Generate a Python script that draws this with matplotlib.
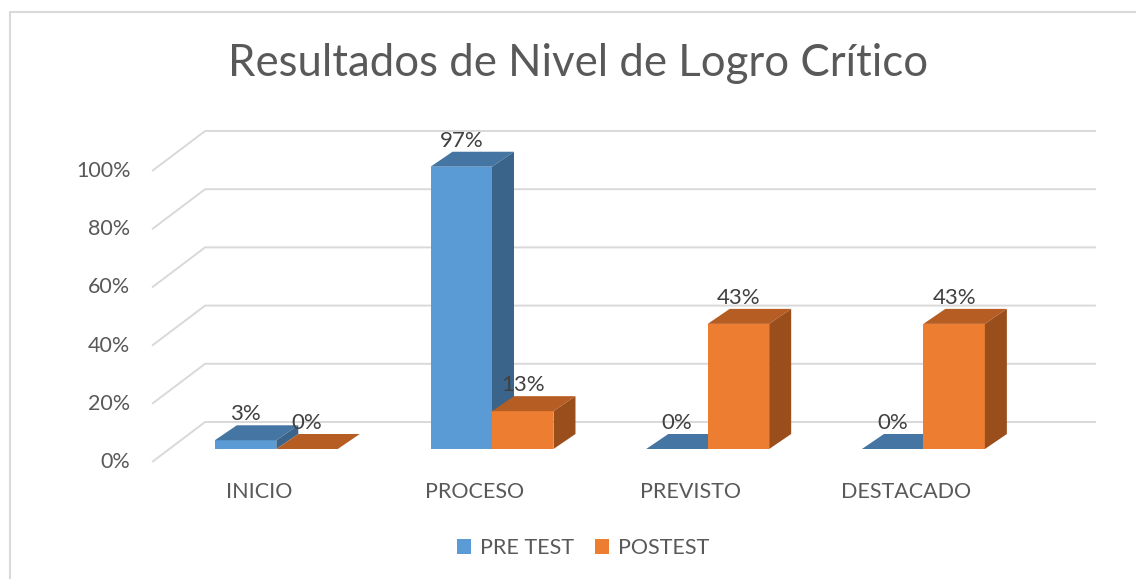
import matplotlib.pyplot as plt
from matplotlib.patches import Polygon, Patch
from matplotlib.lines import Line2D

categories = ['INICIO', 'PROCESO', 'PREVISTO', 'DESTACADO']
pre_test = [3, 97, 0, 0]
postest = [0, 13, 43, 43]
series_names = ['PRE TEST', 'POSTEST']
yticks = [0, 20, 40, 60, 80, 100]

blue = ['#5B9BD5', '#4575A3', '#3A6489']     # front, top, side
orange = ['#ED7D31', '#B55D22', '#9A4E1C']
grid_c = '#D9D9D9'
txt_c = '#595959'
lbl_c = '#404040'
font = 'Lato'

W, H = 1136, 579
fig = plt.figure(figsize=(W / 100, H / 100), dpi=100)
ax = fig.add_axes([0, 0, 1, 1])
# data units: 1 category = 215.7 px, 1 % = 2.91 px
ax.set_xlim(-276.3 / 215.7, (W - 276.3) / 215.7)
ax.set_ylim((449 - H) / 2.91, 449 / 2.91)
ax.axis('off')

bw = 0.285            # width of one bar
bdx, bdy = 0.102, 5.15  # bar depth
fdx, fdy = -0.079, -4.47  # floor front edge relative to bar plane
gdx, gdy = 0.167, 9.28    # back wall relative to bar plane
x_left, x_right = -0.497, 3.80

# gridlines
for v in yticks:
    ax.plot([x_left + fdx, x_left + gdx, x_right], [v + fdy, v + gdy, v + gdy],
            color=grid_c, lw=1.4, solid_capstyle='butt', zorder=1)
    ax.text(x_left + fdx - 0.1, v + fdy, f'{v}%', ha='right', va='center',
            fontsize=15.5, color=txt_c, family=font)

def bar3d(x0, h, cols):
    x1 = x0 + bw
    ax.add_patch(Polygon([(x0, 0), (x1, 0), (x1, h), (x0, h)], closed=True,
                         fc=cols[0], ec='none', zorder=2))
    ax.add_patch(Polygon([(x0, h), (x1, h), (x1 + bdx, h + bdy), (x0 + bdx, h + bdy)],
                         closed=True, fc=cols[1], ec='none', zorder=2))
    ax.add_patch(Polygon([(x1, 0), (x1 + bdx, bdy), (x1 + bdx, h + bdy), (x1, h)],
                         closed=True, fc=cols[2], ec='none', zorder=2))
    ax.text(x0 + bw / 2, h + bdy + 0.4, f'{h}%', ha='center', va='bottom',
            fontsize=16, color=lbl_c, family=font, zorder=3)

for i, cat in enumerate(categories):
    bar3d(i - bw, pre_test[i], blue)
    bar3d(i, postest[i], orange)
    ax.text(i + fdx, -14.8, cat, ha='center', va='center', fontsize=15.5,
            color=txt_c, family=font)

fig.text(578 / W, 1 - 63 / H, 'Resultados de Nivel de Logro Crítico', ha='center',
         va='center', fontsize=31.5, color=txt_c, family=font)

handles = [Patch(fc=blue[0]), Patch(fc=orange[0])]
fig.legend(handles, series_names, loc='center', bbox_to_anchor=(583 / W, 1 - 548 / H),
           ncol=2, frameon=False, handlelength=0.65, handleheight=0.65,
           handletextpad=0.4, columnspacing=1.0,
           prop={'family': font, 'size': 15.5}, labelcolor=txt_c)

# chart border
fig.add_artist(Line2D([10 / W, 10 / W, 1], [0, 1 - 12 / H, 1 - 12 / H],
                      color='#D9D9D9', lw=1.5))

fig.savefig('out.png', dpi=100)
